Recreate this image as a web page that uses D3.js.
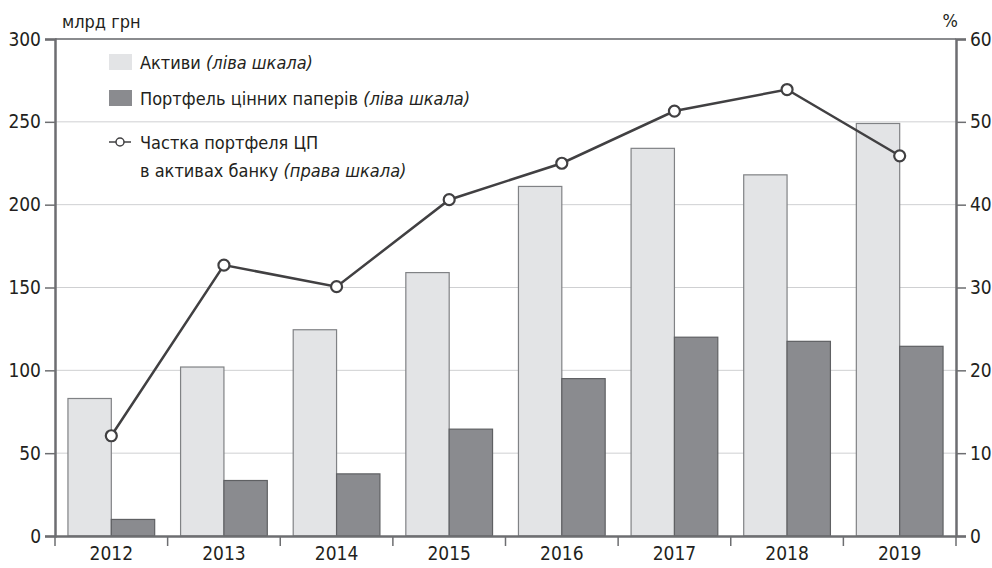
<!DOCTYPE html>
<html lang="uk">
<head>
<meta charset="UTF-8">
<title>Активи і портфель цінних паперів</title>
<script src="https://d3js.org/d3.v7.min.js"></script>
<style>
  body { margin: 0; background: #fff; }
  svg text { font-family: "Liberation Sans Narrow", "DejaVu Sans Condensed", sans-serif; fill: #231f20; }
</style>
</head>
<body>
<div id="chart"></div>
<script>
// data
const years = ["2012", "2013", "2014", "2015", "2016", "2017", "2018", "2019"];
const assets = [83, 102, 124.5, 159, 211, 234, 218, 249];
const portfolio = [10, 33.5, 37.5, 64.5, 95, 120, 117.5, 114.5];
const share = [12.1, 32.7, 30.1, 40.6, 45.0, 51.3, 53.9, 45.9];
const leftTicks = [0, 50, 100, 150, 200, 250, 300];
const rightTicks = [0, 10, 20, 30, 40, 50, 60];

const W = 992, H = 568;
const margin = { top: 39, right: 36, bottom: 32, left: 55 };
const w = W - margin.left - margin.right;
const h = H - margin.top - margin.bottom;

const svg = d3.select("#chart").append("svg")
  .attr("width", W).attr("height", H);
const g = svg.append("g")
  .attr("transform", "translate(" + margin.left + "," + margin.top + ")");

const x = d3.scaleBand().domain(years).range([0, w]).paddingInner(0.23).paddingOuter(0.115);
const xOuter = d3.scaleBand().domain(years).range([0, w]);
const sub = d3.scaleBand().domain(["a", "p"]).range([0, x.bandwidth()]);
const yL = d3.scaleLinear().domain([0, 300]).range([h, 0]);
const yR = d3.scaleLinear().domain([0, 60]).range([h, 0]);

// gridlines
g.append("g").selectAll("line")
  .data(leftTicks.filter(d => d > 0 && d < 300))
  .enter().append("line")
  .attr("x1", 0).attr("x2", w)
  .attr("y1", d => yL(d)).attr("y2", d => yL(d))
  .attr("stroke", "#cfd0d2").attr("stroke-width", 1);

// top border
g.append("line").attr("x1", 0).attr("x2", w).attr("y1", 0).attr("y2", 0)
  .attr("stroke", "#8a8b8e").attr("stroke-width", 2);

// bars
const groups = g.append("g").selectAll("g")
  .data(years).enter().append("g")
  .attr("transform", d => "translate(" + x(d) + ",0)");

groups.append("rect")
  .attr("x", sub("a"))
  .attr("width", sub.bandwidth())
  .attr("y", (d, i) => yL(assets[i]))
  .attr("height", (d, i) => h - yL(assets[i]))
  .attr("fill", "#e3e4e6").attr("stroke", "#808285").attr("stroke-width", 1.2);

groups.append("rect")
  .attr("x", sub("p"))
  .attr("width", sub.bandwidth())
  .attr("y", (d, i) => yL(portfolio[i]))
  .attr("height", (d, i) => h - yL(portfolio[i]))
  .attr("fill", "#8a8b8f").attr("stroke", "#5f6063").attr("stroke-width", 1.2);

// axes
const axisColor = "#6d6e71";
const leftAxis = g.append("g")
  .call(d3.axisLeft(yL).tickValues(leftTicks).tickSize(10).tickPadding(4));
const rightAxis = g.append("g").attr("transform", "translate(" + w + ",0)")
  .call(d3.axisRight(yR).tickValues(rightTicks).tickSize(10).tickPadding(4));
const bottomAxis = g.append("g").attr("transform", "translate(0," + h + ")")
  .call(d3.axisBottom(xOuter).tickSize(0).tickPadding(11));

[leftAxis, rightAxis, bottomAxis].forEach(a => {
  a.select(".domain").attr("stroke", axisColor).attr("stroke-width", 2.5);
  a.selectAll(".tick line").attr("stroke", axisColor).attr("stroke-width", 1.5);
  a.selectAll("text").attr("font-size", 19).attr("fill", "#231f20");
});

// category separators on x axis
g.append("g").selectAll("line")
  .data(years.concat(["end"]))
  .enter().append("line")
  .attr("x1", (d, i) => i * xOuter.step()).attr("x2", (d, i) => i * xOuter.step())
  .attr("y1", h).attr("y2", h + 10)
  .attr("stroke", axisColor).attr("stroke-width", 1.5);

// share line
const cx = d => xOuter(d) + xOuter.bandwidth() / 2;
const line = d3.line().x((d, i) => cx(years[i])).y(d => yR(d));
g.append("path").datum(share)
  .attr("d", line).attr("fill", "none")
  .attr("stroke", "#414042").attr("stroke-width", 2.5);
g.append("g").selectAll("circle")
  .data(share).enter().append("circle")
  .attr("cx", (d, i) => cx(years[i])).attr("cy", d => yR(d)).attr("r", 5.5)
  .attr("fill", "#fff").attr("stroke", "#414042").attr("stroke-width", 2.2);

// unit labels
svg.append("text").attr("x", 62).attr("y", 28).attr("font-size", 18).text("млрд грн");
svg.append("text").attr("x", 958).attr("y", 27).attr("font-size", 18)
  .attr("text-anchor", "end").text("%");

// legend
const lg = svg.append("g");
lg.append("rect").attr("x", 109).attr("y", 54).attr("width", 23).attr("height", 16).attr("fill", "#e3e4e6");
lg.append("rect").attr("x", 109).attr("y", 90).attr("width", 23).attr("height", 16).attr("fill", "#8a8b8f");
lg.append("line").attr("x1", 109).attr("x2", 131).attr("y1", 142).attr("y2", 142)
  .attr("stroke", "#414042").attr("stroke-width", 1.5);
lg.append("circle").attr("cx", 120).attr("cy", 142).attr("r", 4)
  .attr("fill", "#fff").attr("stroke", "#414042").attr("stroke-width", 1.5);

const legendItems = [
  { y: 69, main: "Активи ", note: "(ліва шкала)" },
  { y: 105, main: "Портфель цінних паперів ", note: "(ліва шкала)" },
  { y: 149, main: "Частка портфеля ЦП", note: "" },
  { y: 177, main: "в активах банку ", note: "(права шкала)" }
];
legendItems.forEach(it => {
  const t = lg.append("text").attr("x", 140).attr("y", it.y).attr("font-size", 18);
  t.append("tspan").text(it.main);
  if (it.note) t.append("tspan").attr("font-style", "italic").text(it.note);
});
</script>
</body>
</html>
